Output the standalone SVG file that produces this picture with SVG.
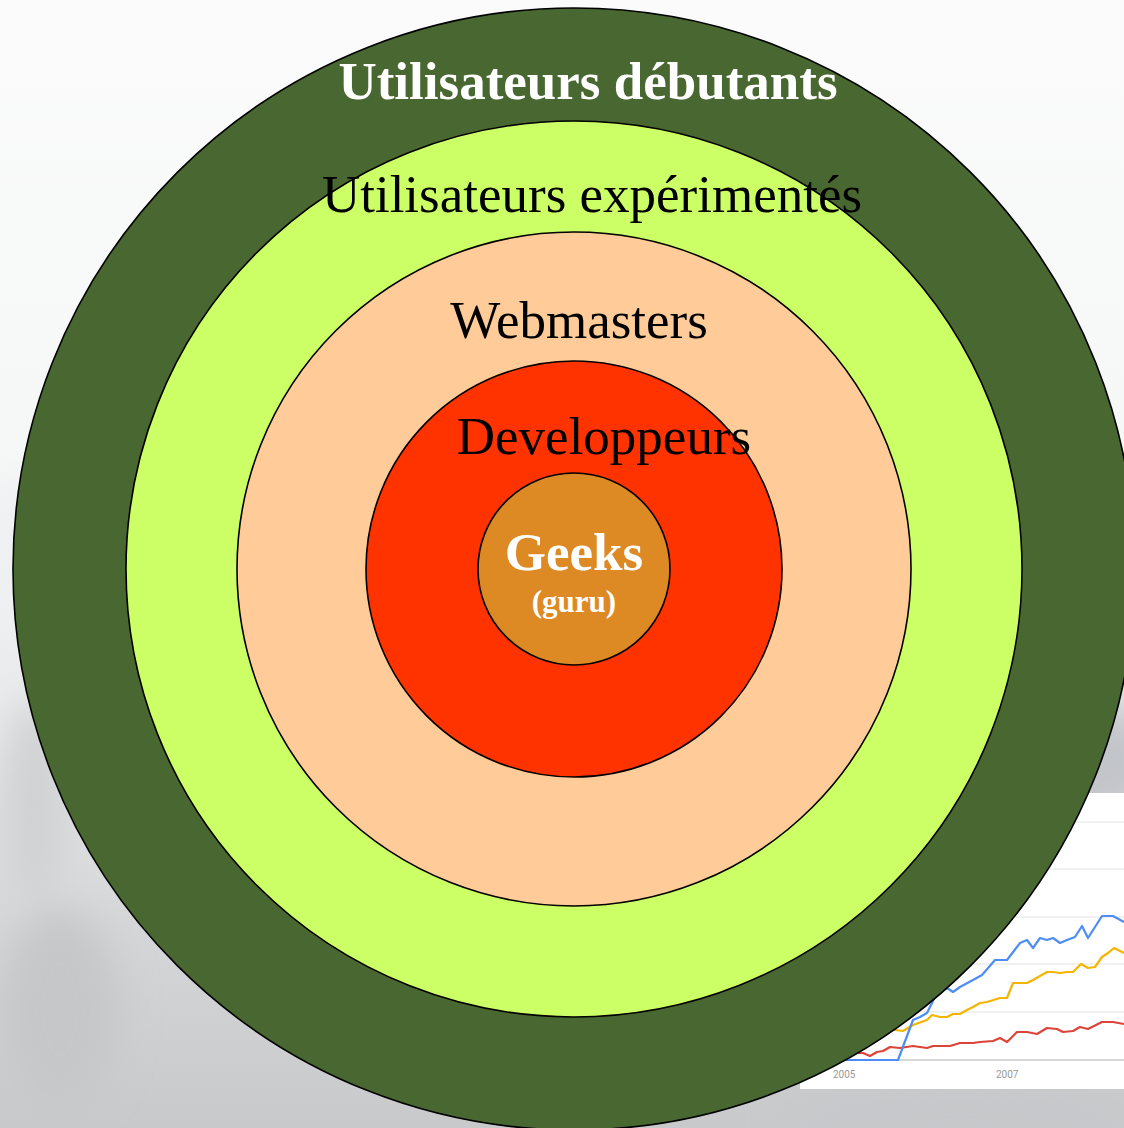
<svg xmlns="http://www.w3.org/2000/svg" width="1124" height="1128" viewBox="0 0 1124 1128">
  <style>
    .ring { stroke: #000; stroke-width: 1.6; }
    .lbl { font-family: "Liberation Serif", "Times New Roman", serif; font-size: 53px; text-anchor: middle; }
    .white { fill: #fff; font-weight: bold; }
    .black { fill: #000; }
    .grid { stroke: #ececec; stroke-width: 1.5; }
    .trend { fill: none; stroke-width: 2.2; stroke-linejoin: round; }
    .yr { font-family: "Roboto", "Liberation Sans", sans-serif; font-size: 10px; fill: #999; }
  </style>
  <defs>
    <linearGradient id="bg" x1="0" y1="0" x2="0" y2="1">
      <stop offset="0" stop-color="#fbfbfb"/>
      <stop offset="0.4" stop-color="#f6f7f7"/>
      <stop offset="0.62" stop-color="#e8eaeb"/>
      <stop offset="0.82" stop-color="#d4d6d8"/>
      <stop offset="1" stop-color="#c8c9cb"/>
    </linearGradient>
    <filter id="blur" x="-50%" y="-50%" width="200%" height="200%">
      <feGaussianBlur stdDeviation="18"/>
    </filter>
  </defs>

  <g id="background">
    <rect x="0" y="0" width="1124" height="1128" fill="url(#bg)"/>
    <g filter="url(#blur)">
      <ellipse cx="35" cy="800" rx="30" ry="100" fill="#cfd1d3"/>
      <ellipse cx="60" cy="1010" rx="60" ry="100" fill="#c6c7c9"/>
      <ellipse cx="20" cy="560" rx="30" ry="80" fill="#eef1f2"/>
      <ellipse cx="1100" cy="760" rx="60" ry="60" fill="#c2c5c9"/>
      <ellipse cx="1090" cy="680" rx="30" ry="40" fill="#d8dadc"/>
      <ellipse cx="960" cy="1115" rx="180" ry="25" fill="#c6c7ca"/>
    </g>
  </g>

  <g id="chart">
    <rect x="800" y="793" width="324" height="296" fill="#ffffff"/>
    <line class="grid" x1="800" y1="822" x2="1124" y2="822"/>
    <line class="grid" x1="800" y1="869" x2="1124" y2="869"/>
    <line class="grid" x1="800" y1="917" x2="1124" y2="917"/>
    <line class="grid" x1="800" y1="964" x2="1124" y2="964"/>
    <line class="grid" x1="800" y1="1012" x2="1124" y2="1012"/>
    <line x1="800" y1="1060" x2="1124" y2="1060" stroke="#cccccc" stroke-width="1.5"/>
    <text class="yr" x="833" y="1078">2005</text>
    <text class="yr" x="996" y="1078">2007</text>
    <polyline class="trend" stroke="#db4437" points="840,1056 857,1053 863,1053 870,1056 877,1052 883,1051 890,1047 900,1048 913,1046 927,1048 933,1046 950,1046 960,1043 973,1043 980,1042 993,1041 1000,1038 1007,1042 1017,1032 1027,1032 1037,1034 1047,1028 1057,1029 1063,1032 1073,1031 1080,1027 1088,1029 1102,1022 1113,1022 1124,1024"/>
    <polyline class="trend" stroke="#f4b400" points="860,1032 880,1030 895,1030 903,1031 913,1025 927,1020 932,1015 940,1017 947,1017 953,1014 960,1014 967,1010 973,1007 980,1003 987,1002 1000,998 1007,998 1013,983 1027,983 1033,980 1047,972 1053,972 1060,973 1067,972 1073,972 1081,964 1088,968 1095,967 1102,957 1108,953 1114,948 1124,953"/>
    <polyline class="trend" stroke="#4d8ef5" points="830,1060 898,1060 913,1020 920,1017 927,1013 937,993 947,988 953,992 960,987 973,980 982,975 995,960 1007,960 1020,943 1027,940 1033,948 1040,938 1047,940 1053,938 1060,943 1067,940 1075,937 1082,926 1088,938 1102,916 1113,916 1124,922"/>
  </g>

  <g id="ring-debutants">
    <circle class="ring" cx="574" cy="569" r="561" fill="#496831"/>
  </g>
  <g id="ring-experimentes">
    <circle class="ring" cx="574" cy="569" r="448" fill="#ccff66"/>
  </g>
  <g id="ring-webmasters">
    <circle class="ring" cx="574" cy="569" r="337" fill="#ffcc99"/>
  </g>
  <g id="ring-developpeurs">
    <circle class="ring" cx="574" cy="569" r="208" fill="#ff3300"/>
  </g>
  <g id="core-geeks">
    <circle class="ring" cx="574" cy="569" r="96" fill="#de8a24"/>
  </g>

  <g id="labels">
    <text class="lbl white" x="588" y="99">Utilisateurs débutants</text>
    <text class="lbl black" x="592" y="212">Utilisateurs expérimentés</text>
    <text class="lbl black" x="579" y="338">Webmasters</text>
    <text class="lbl black" x="604" y="454">Developpeurs</text>
    <text class="lbl white" x="574" y="570">Geeks</text>
    <text class="lbl white" x="574" y="612" style="font-size:31px">(guru)</text>
  </g>
</svg>
